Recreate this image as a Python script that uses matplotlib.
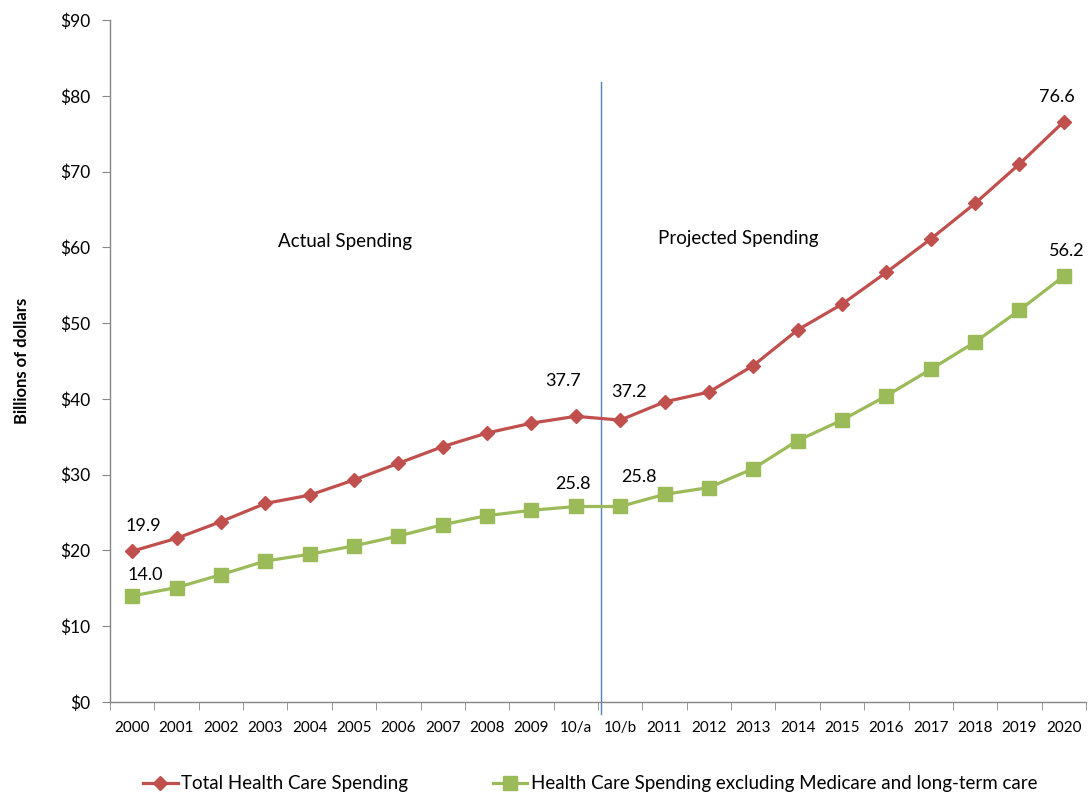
import matplotlib
matplotlib.use("Agg")
import matplotlib.pyplot as plt
from matplotlib.ticker import FuncFormatter, FixedLocator, NullFormatter

categories = ["2000", "2001", "2002", "2003", "2004", "2005", "2006", "2007",
              "2008", "2009", "10/a", "10/b", "2011", "2012", "2013", "2014",
              "2015", "2016", "2017", "2018", "2019", "2020"]
total_spending = [19.9, 21.6, 23.8, 26.2, 27.3, 29.3, 31.5, 33.7, 35.5, 36.8, 37.7,
                  37.2, 39.6, 40.9, 44.4, 49.1, 52.5, 56.7, 61.1, 65.8, 71.0, 76.6]
excl_spending = [14.0, 15.1, 16.8, 18.6, 19.5, 20.6, 21.9, 23.4, 24.6, 25.3, 25.8,
                 25.8, 27.4, 28.3, 30.8, 34.5, 37.2, 40.4, 43.9, 47.5, 51.7, 56.2]
y_ticks = [0, 10, 20, 30, 40, 50, 60, 70, 80, 90]

# (index, series, dx px, dy px)
labelled = [(0, "t", 11, 25), (10, "t", -13, 35), (11, "t", 9, 28), (21, "t", -7, 25),
            (0, "e", 13, 21), (10, "e", -3, 22), (11, "e", 19, 29), (21, "e", 3, 25)]

RED = "#C0504D"
GREEN = "#9BBB59"
AXIS_GRAY = "#868686"

plt.rcParams["font.family"] = ["Lato", "DejaVu Sans"]

fig = plt.figure(figsize=(10.89, 7.96), dpi=100)
ax = fig.add_axes([110 / 1089, 94 / 796, 976 / 1089, 682 / 796])

x = list(range(len(categories)))
ax.plot(x, total_spending, color=RED, lw=2.3, marker="D", ms=7.5,
        label="Total Health Care Spending", zorder=3)
ax.plot(x, excl_spending, color=GREEN, lw=2.3, marker="s", ms=9.5,
        label="Health Care Spending excluding Medicare and long-term care", zorder=3)

ax.set_xlim(-0.5, len(categories) - 0.5)
ax.set_ylim(0, 90)
ax.set_yticks(y_ticks)
ax.yaxis.set_major_formatter(FuncFormatter(lambda v, p: f"${v:.0f}"))
ax.tick_params(axis="y", labelsize=12.5, length=6, color=AXIS_GRAY, pad=8)

ax.set_xticks(x)
ax.set_xticklabels(categories)
ax.tick_params(axis="x", which="major", length=0, labelsize=11, pad=14)
ax.xaxis.set_minor_locator(FixedLocator([i - 0.5 for i in range(len(categories) + 1)]))
ax.xaxis.set_minor_formatter(NullFormatter())
ax.tick_params(axis="x", which="minor", length=6, color=AXIS_GRAY)

for side in ("top", "right"):
    ax.spines[side].set_visible(False)
for side in ("left", "bottom"):
    ax.spines[side].set_color(AXIS_GRAY)
    ax.spines[side].set_linewidth(1)

# divider between actual and projected years
ax.plot([10.57, 10.57], [-1.6, 81.8], color="#4F81BD", lw=1, clip_on=False, zorder=2)

ax.text(4.8, 60.8, "Actual Spending", ha="center", va="center", fontsize=13.5)
ax.text(13.66, 61.2, "Projected Spending", ha="center", va="center", fontsize=13.5)

for i, s, dx, dy in labelled:
    v = total_spending[i] if s == "t" else excl_spending[i]
    ax.annotate(f"{v:.1f}", (i, v), xytext=(dx * 0.72, dy * 0.72),
                textcoords="offset points", ha="center", va="center", fontsize=13)

ax.set_ylabel("Billions of dollars", fontsize=12, fontweight="bold", labelpad=22)

leg = fig.legend(loc="center", bbox_to_anchor=(0.542, 12 / 796), ncol=2, frameon=False,
                 fontsize=13.5, handlelength=1.85, handletextpad=0.2, columnspacing=4.5)

fig.savefig("out.png", dpi=100)
